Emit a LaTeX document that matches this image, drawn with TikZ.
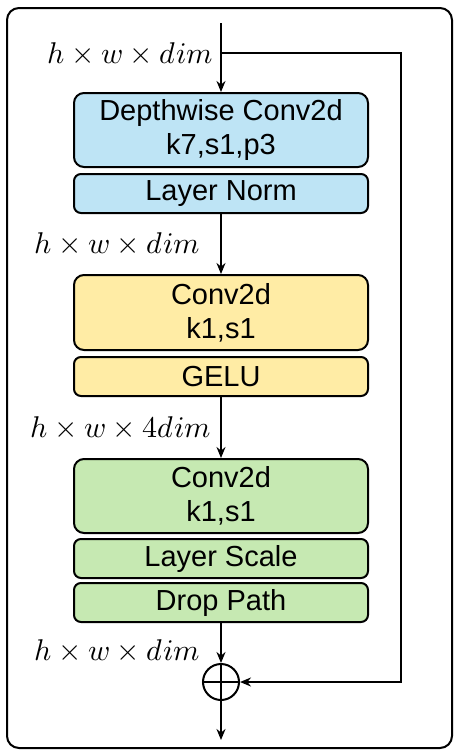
\documentclass[tikz,border=0pt]{standalone}
\usepackage{fontspec}
\usepackage{amsmath}
\usepackage{unicode-math}
\setmainfont{Liberation Sans}
\setmathfont{Latin Modern Math}
\usepackage{tikz}
\usetikzlibrary{arrows.meta,positioning}
\definecolor{myblue}{RGB}{190,228,245}
\definecolor{myyellow}{RGB}{255,236,165}
\definecolor{mygreen}{RGB}{198,233,178}

\tikzset{
  block/.style={draw=black, line width=2pt, rounded corners=10pt, minimum width=294pt, align=center, inner sep=0pt, font=\fontsize{29}{34}\selectfont},
  small/.style={block, rounded corners=7pt, minimum height=39pt},
  big/.style={block, minimum height=74pt},
  dimlabel/.style={anchor=east, inner sep=0pt, font=\fontsize{30}{36}\selectfont},
  flow/.style={line width=2pt, -{Stealth[length=11pt,width=9pt]}}
}

\begin{document}
\begin{tikzpicture}[x=1pt,y=-1pt]

\useasboundingbox (0,0) rectangle (459,756);
\draw[line width=2pt, rounded corners=12pt] (7,8) rectangle (452,748);

\coordinate (in) at (221,23);
\coordinate (split) at (221,53);
\coordinate (corner) at (401,53);
\coordinate (out) at (221,740);

\node[big, fill=myblue] (dw) at (221,130) {Depthwise Conv2d\\k7,s1,p3};
\node[small, fill=myblue] (ln) at (221,193.5) {Layer Norm};

\node[big, fill=myyellow, minimum height=75pt] (pw1) at (221,312.5) {Conv2d\\k1,s1};
\node[small, fill=myyellow] (gelu) at (221,376.5) {GELU};

\node[big, fill=mygreen] (pw2) at (221,496) {Conv2d\\k1,s1};
\node[small, fill=mygreen] (ls) at (221,558.5) {Layer Scale};
\node[small, fill=mygreen] (dp) at (221,602.5) {Drop Path};

\node[draw, circle, line width=2pt, minimum size=36pt, inner sep=0pt] (add) at (221,682) {};
\draw[line width=2pt] (add.north) -- (add.south) (add.west) -- (add.east);

\node[dimlabel] (d1) at (213,53) {$h\times w\times dim$};
\node[dimlabel] (d2) at (200,243) {$h\times w\times dim$};
\node[dimlabel] (d3) at (211,427) {$h\times w\times 4dim$};
\node[dimlabel] (d4) at (200,650) {$h\times w\times dim$};

\draw[flow] (in) -- (dw);
\draw[flow] (ln) -- (pw1);
\draw[flow] (gelu) -- (pw2);
\draw[flow] (dp) -- (add);
\draw[flow] (add) -- (out);
\draw[flow] (split) -- (corner) |- (add);

\end{tikzpicture}
\end{document}
